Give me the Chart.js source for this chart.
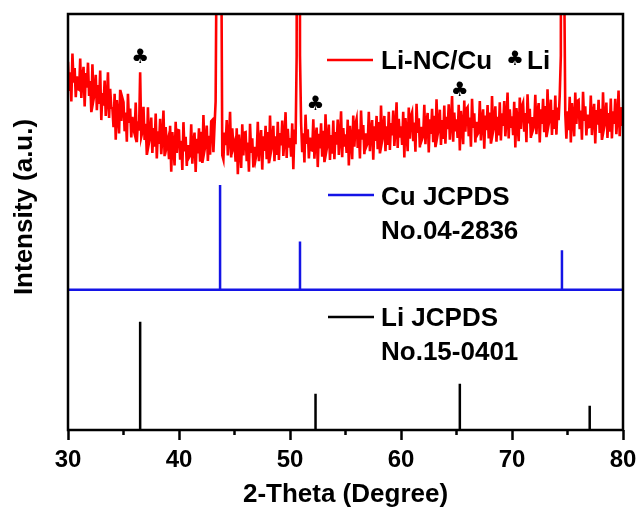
<!DOCTYPE html>
<html>
<head>
<meta charset="utf-8">
<script src="https://cdn.jsdelivr.net/npm/chart.js@4.4.1/dist/chart.umd.min.js"></script>
<style>
  html, body { margin: 0; padding: 0; background: #fff; }
</style>
</head>
<body>
<canvas id="xrd" width="639" height="510"></canvas>
<script>
// Li-NC/Cu scan, 2-theta 30..80 in 0.1 deg steps (counts)
const scanStart = 30;
const scanStep = 0.1;
const sampleCounts = [
  885, 815, 860, 790, 905, 835, 870, 800, 850, 820,      // 30
  818, 893, 798, 848, 873, 778, 858, 823, 883, 803,      // 31
  839, 764, 879, 794, 809, 854, 769, 829, 784, 864,      // 32
  745, 810, 780, 840, 755, 795, 860, 750, 820, 775,      // 33
  773, 728, 808, 698, 793, 758, 713, 818, 743, 798,      // 34
  788, 718, 763, 693, 808, 738, 773, 703, 753, 723,      // 35
  712, 787, 692, 742, 720, 860, 705, 717, 777, 697,      // 36
  736, 661, 776, 691, 706, 751, 666, 726, 681, 761,      // 37
  653, 718, 688, 748, 663, 703, 768, 658, 728, 683,      // 38
  696, 651, 731, 621, 716, 681, 636, 741, 666, 721,      // 39
  720, 650, 695, 625, 740, 670, 705, 635, 685, 655,      // 40
  660, 735, 640, 690, 715, 620, 700, 665, 725, 645,      // 41
  717, 642, 757, 672, 687, 732, 647, 707, 662, 742,      // 42
  745, 668, 730, 790, 1200, 4000, 4000, 4000, 1200, 660, // 43
  650, 715, 685, 745, 660, 700, 765, 655, 725, 680,      // 44
  690, 645, 725, 615, 710, 675, 630, 735, 660, 715,      // 45
  716, 646, 691, 621, 736, 666, 701, 631, 681, 651,      // 46
  666, 741, 646, 696, 721, 626, 706, 671, 731, 651,      // 47
  716, 641, 756, 671, 686, 731, 646, 706, 661, 741,      // 48
  649, 714, 684, 744, 659, 699, 764, 654, 724, 679,      // 49
  702, 657, 737, 627, 722, 687, 900, 4000, 4000, 900,    // 50
  738, 668, 713, 643, 758, 688, 723, 653, 703, 673,      // 51
  672, 747, 652, 702, 727, 632, 712, 677, 737, 657,      // 52
  719, 644, 759, 674, 689, 734, 649, 709, 664, 744,      // 53
  651, 716, 686, 746, 661, 701, 766, 656, 726, 681,      // 54
  711, 666, 746, 636, 731, 696, 651, 756, 681, 736,      // 55
  748, 678, 723, 653, 768, 698, 733, 663, 713, 683,      // 56
  690, 765, 670, 720, 745, 650, 730, 695, 755, 675,      // 57
  740, 665, 780, 695, 710, 755, 670, 730, 685, 765,      // 58
  673, 738, 708, 768, 683, 723, 788, 678, 748, 703,      // 59
  730, 685, 765, 655, 750, 715, 670, 775, 700, 755,      // 60
  764, 694, 739, 669, 784, 714, 749, 679, 729, 699,      // 61
  707, 782, 687, 737, 762, 667, 747, 712, 772, 692,      // 62
  755, 680, 795, 710, 725, 770, 685, 745, 700, 780,      // 63
  688, 753, 723, 783, 698, 738, 803, 693, 763, 718,      // 64
  747, 702, 782, 672, 767, 732, 687, 792, 717, 772,      // 65
  776, 706, 751, 681, 796, 726, 761, 691, 741, 711,      // 66
  716, 791, 696, 746, 771, 676, 756, 721, 781, 701,      // 67
  763, 688, 803, 718, 733, 778, 693, 753, 708, 788,      // 68
  696, 761, 731, 791, 706, 746, 811, 701, 771, 726,      // 69
  754, 709, 789, 679, 774, 739, 694, 799, 724, 779,      // 70
  787, 717, 762, 692, 807, 737, 772, 702, 752, 722,      // 71
  731, 806, 711, 761, 786, 691, 771, 736, 796, 716,      // 72
  779, 704, 819, 734, 749, 794, 709, 769, 724, 804,      // 73
  710, 775, 745, 805, 900, 4000, 4000, 1100, 760, 700,   // 74
  766, 721, 801, 691, 786, 751, 706, 811, 736, 791,      // 75
  793, 723, 768, 698, 813, 743, 778, 708, 758, 728,      // 76
  729, 804, 709, 759, 784, 689, 769, 734, 794, 714,      // 77
  772, 697, 812, 727, 742, 787, 702, 762, 717, 797,      // 78
  701, 766, 736, 796, 711, 751, 816, 706, 776, 731,      // 79
  760                                                    // 80
];

// Cu JCPDS No.04-2836 reference lines
const cuPeaks = [43.7, 50.9, 74.5];
const cuHeights = [252, 116, 95];
const cuBaseline = 337;

// Li JCPDS No.15-0401 reference lines
const liPeaks = [36.5, 52.3, 65.3, 77.0];
const liHeights = [260, 87, 111, 58];

// Li reflections marked with a club in the sample scan
const clubMarks = [36.5, 52.3, 65.3];

const xTicks = [30, 40, 50, 60, 70, 80];
const minorTicks = [35, 45, 55, 65, 75];

const sansBold = (size) => ({ family: '"Liberation Sans", Arial, sans-serif', size: size, weight: 'bold' });
const boldCss = 'bold 26px "Liberation Sans", Arial, sans-serif';

const samplePoints = sampleCounts.map((c, i) => ({ x: scanStart + i * scanStep, y: c }));

// Cu pattern sits on its own raised baseline
const cuPoints = [{ x: 30, y: cuBaseline }];
cuPeaks.forEach((p, i) => {
  cuPoints.push({ x: p, y: cuBaseline }, { x: p, y: cuBaseline + cuHeights[i] }, { x: p, y: cuBaseline });
});
cuPoints.push({ x: 80, y: cuBaseline });

const liPoints = [];
liPeaks.forEach((p, i) => {
  liPoints.push({ x: p, y: 0 }, { x: p, y: liHeights[i] }, { x: p, y: null });
});

const decorations = {
  id: 'decorations',
  afterDatasetsDraw(chart) {
    const { ctx, chartArea: a, scales: { x, y } } = chart;
    ctx.save();

    // clubs over the Li reflections
    ctx.fillStyle = '#000';
    ctx.font = '20px "DejaVu Sans"';
    ctx.textAlign = 'center';
    ctx.textBaseline = 'middle';
    clubMarks.forEach(angle => {
      let top = 0;
      sampleCounts.forEach((c, i) => {
        if (Math.abs(scanStart + i * scanStep - angle) <= 0.25) top = Math.max(top, c);
      });
      ctx.fillText('\u2663', x.getPixelForValue(angle), y.getPixelForValue(top) - 14);
    });

    // frame
    ctx.strokeStyle = '#000';
    ctx.lineWidth = 2.5;
    ctx.strokeRect(a.left, a.top, a.right - a.left, a.bottom - a.top);

    // minor ticks
    ctx.beginPath();
    minorTicks.forEach(v => {
      const px = x.getPixelForValue(v);
      ctx.moveTo(px, a.bottom);
      ctx.lineTo(px, a.bottom + 5);
    });
    ctx.stroke();

    // y axis title, sits a little above the middle like the original
    ctx.save();
    ctx.translate(25, 207);
    ctx.rotate(-Math.PI / 2);
    ctx.font = boldCss;
    ctx.textAlign = 'center';
    ctx.textBaseline = 'middle';
    ctx.fillText('Intensity (a.u.)', 0, 0);
    ctx.restore();

    // legend entries
    const entry = (color, x0, yLine, lines, baselines) => {
      ctx.strokeStyle = color;
      ctx.lineWidth = 2.5;
      ctx.beginPath();
      ctx.moveTo(x0, yLine);
      ctx.lineTo(x0 + 46, yLine);
      ctx.stroke();
      ctx.fillStyle = '#000';
      ctx.font = boldCss;
      ctx.textAlign = 'left';
      ctx.textBaseline = 'alphabetic';
      lines.forEach((t, i) => ctx.fillText(t, 381, baselines[i]));
    };
    entry('#ff0000', 327, 60, ['Li-NC/Cu'], [69]);
    entry('#1414e6', 328, 195, ['Cu JCPDS', 'No.04-2836'], [205, 239]);
    entry('#000000', 328, 317, ['Li JCPDS', 'No.15-0401'], [326, 360]);

    ctx.font = '20px "DejaVu Sans"';
    ctx.textAlign = 'center';
    ctx.textBaseline = 'middle';
    ctx.fillText('\u2663', 515, 60);
    ctx.font = boldCss;
    ctx.textAlign = 'left';
    ctx.textBaseline = 'alphabetic';
    ctx.fillText('Li', 527, 69);

    ctx.restore();
  }
};

new Chart(document.getElementById('xrd'), {
  type: 'line',
  data: {
    datasets: [
      { label: 'Li-NC/Cu', data: samplePoints, borderColor: '#ff0000', borderWidth: 2.6 },
      { label: 'Cu JCPDS No.04-2836', data: cuPoints, borderColor: '#1414e6', borderWidth: 2.5 },
      { label: 'Li JCPDS No.15-0401', data: liPoints, borderColor: '#000000', borderWidth: 2.5 }
    ]
  },
  options: {
    responsive: false,
    animation: false,
    devicePixelRatio: 1,
    layout: { padding: { top: 14, right: 16, left: 0, bottom: 0 } },
    elements: { point: { radius: 0 }, line: { tension: 0 } },
    spanGaps: false,
    plugins: { legend: { display: false }, tooltip: { enabled: false } },
    scales: {
      x: {
        type: 'linear',
        min: 30,
        max: 80,
        afterFit: s => { s.height = 80; s.paddingLeft = 0; s.paddingRight = 0; },
        afterBuildTicks: s => { s.ticks = xTicks.map(v => ({ value: v })); },
        ticks: { color: '#000', font: sansBold(24), padding: 6, maxRotation: 0, autoSkip: false },
        grid: { drawOnChartArea: false, tickLength: 10, tickWidth: 2.5, tickColor: '#000', color: '#000' },
        border: { display: false },
        title: { display: true, text: '2-Theta (Degree)', color: '#000', font: sansBold(26), padding: { top: 0, bottom: 0 } }
      },
      y: {
        type: 'linear',
        min: 0,
        max: 1000,
        afterFit: s => { s.width = 68; },
        ticks: { display: false },
        grid: { display: false },
        border: { display: false },
        title: { display: false }
      }
    }
  },
  plugins: [decorations]
});
</script>
</body>
</html>
